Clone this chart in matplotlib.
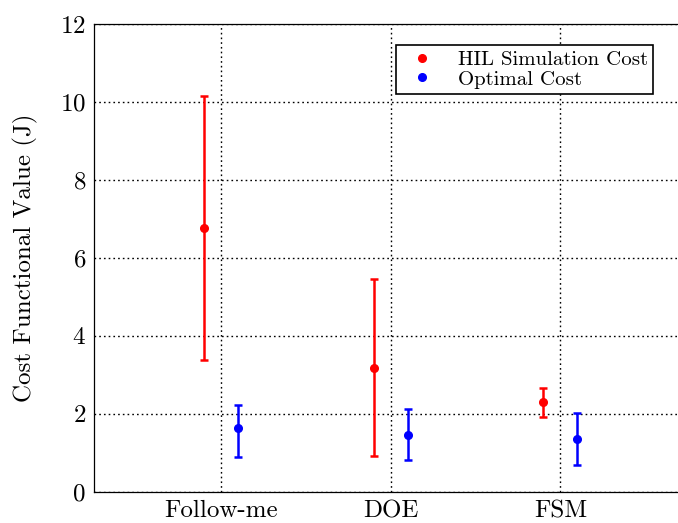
import matplotlib
matplotlib.use("Agg")
import matplotlib.pyplot as plt
import numpy as np

plt.rcParams['font.family'] = ['cmr10', 'DejaVu Serif']
plt.rcParams['axes.formatter.use_mathtext'] = True

methods = ["Follow-me", "DOE", "FSM"]

# HIL simulation cost: mean, upper and lower ends of the bars
hil_mean = [6.76, 3.18, 2.29]
hil_upper = [10.16, 5.45, 2.67]
hil_lower = [3.38, 0.92, 1.92]

# optimal cost
opt_mean = [1.63, 1.45, 1.35]
opt_upper = [2.22, 2.11, 2.03]
opt_lower = [0.88, 0.80, 0.69]

x = np.arange(1, len(methods) + 1)
shift = 0.1

fig = plt.figure(figsize=(6.78, 5.23), dpi=100)
ax = fig.add_axes([0.139, 0.06, 0.875, 0.894])

hil_err = [np.subtract(hil_mean, hil_lower), np.subtract(hil_upper, hil_mean)]
opt_err = [np.subtract(opt_mean, opt_lower), np.subtract(opt_upper, opt_mean)]

ax.errorbar(x - shift, hil_mean, yerr=hil_err, fmt='o', color='red', ecolor='red',
            markersize=5.5, elinewidth=1.8, capsize=3, capthick=1.8, zorder=3)
ax.errorbar(x + shift, opt_mean, yerr=opt_err, fmt='o', color='blue', ecolor='blue',
            markersize=5.5, elinewidth=1.8, capsize=3, capthick=1.8, zorder=3)

# legend shows only the dots
ax.plot([], [], 'o', color='red', markersize=5.5, label="HIL Simulation Cost")
ax.plot([], [], 'o', color='blue', markersize=5.5, label="Optimal Cost")

ax.set_xlim(0.25, 3.75)
ax.set_ylim(0, 12)
ax.set_xticks(x)
ax.set_xticklabels(methods)
ax.set_yticks(np.arange(0, 13, 2))
ax.tick_params(labelsize=18, length=0, pad=6)
ax.set_ylabel("Cost Functional Value (J)", fontsize=18, labelpad=16)
ax.grid(True, color='black', linestyle=(0, (1.2, 2.2)), linewidth=1.0)
for s in ax.spines.values():
    s.set_linewidth(0.9)

handles, labels = ax.get_legend_handles_labels()
leg = ax.legend(handles[-2:], labels[-2:], loc='upper right', bbox_to_anchor=(0.942, 0.955),
                borderaxespad=0, fontsize=15, fancybox=False, edgecolor='black',
                framealpha=1, handletextpad=0.7, labelspacing=0.05, borderpad=0.25,
                handlelength=2.0)
leg.get_frame().set_linewidth(1.2)

plt.savefig("out.png", dpi=100)
